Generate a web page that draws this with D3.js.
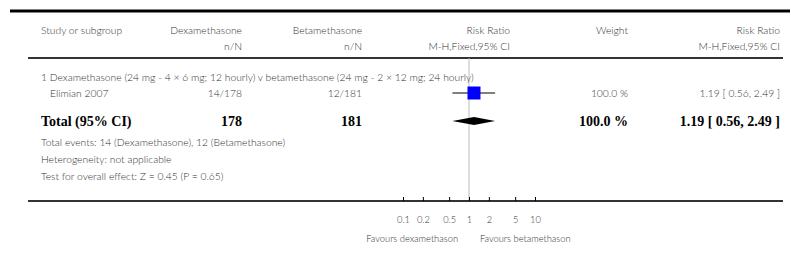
<!DOCTYPE html>
<html>
<head>
<meta charset="utf-8">
<script src="https://cdn.jsdelivr.net/npm/d3@7"></script>
<style>
  body { margin: 0; background: #fff; }
  svg text { font-family: Lato, "Open Sans", sans-serif; font-weight: 300; fill: #333; }
  .bold { font-family: "Liberation Serif", "DejaVu Serif", serif !important; font-weight: bold !important; fill: #000 !important; }
</style>
</head>
<body>
<svg id="chart"></svg>
<script>
// data
const subgroupTitle = "1 Dexamethasone (24 mg - 4 \u00d7 6 mg; 12 hourly) v betamethasone (24 mg - 2 \u00d7 12 mg; 24 hourly)";
const studies = ["Elimian 2007"];
const dexEvents = [14];
const dexTotal = [178];
const betaEvents = [12];
const betaTotal = [181];
const studyRR = [1.19];
const studyLow = [0.56];
const studyHigh = [2.49];
const studyWeight = [100.0];

const totalRR = 1.19, totalLow = 0.56, totalHigh = 2.49;
const totalEventsDex = 14, totalEventsBeta = 12;
const tickValues = [0.1, 0.2, 0.5, 1, 2, 5, 10];
const footLines = [
  `Total events: ${totalEventsDex} (Dexamethasone), ${totalEventsBeta} (Betamethasone)`,
  "Heterogeneity: not applicable",
  "Test for overall effect: Z = 0.45 (P = 0.65)"
];

const width = 791, height = 274;
const svg = d3.select('#chart').attr('width', width).attr('height', height);

const x = d3.scaleLog().domain([0.1, 10]).range([403, 535]);

// column right edges
const col = { dex: 242, beta: 362, rr: 510, weight: 628, ci: 780 };
const left = 41;
const fs = 10.3;

const fmt = d3.format('.2f');

// top rule + header rule
svg.append('line').attr('x1', 10).attr('x2', 790).attr('y1', 11).attr('y2', 11)
  .attr('stroke', '#000').attr('stroke-width', 3);
svg.append('line').attr('x1', 28).attr('x2', 783).attr('y1', 58).attr('y2', 58)
  .attr('stroke', '#333').attr('stroke-width', 2);

// null line
svg.append('line').attr('x1', x(1)).attr('x2', x(1)).attr('y1', 58).attr('y2', 201)
  .attr('stroke', '#bbb').attr('stroke-width', 1);

// header
const hdr = svg.append('g').attr('font-size', fs);
hdr.append('text').attr('x', left).attr('y', 34).text('Study or subgroup');
[[col.dex, 'Dexamethasone', 'n/N'], [col.beta, 'Betamethasone', 'n/N'],
 [col.rr, 'Risk Ratio', 'M-H,Fixed,95% CI'], [col.weight, 'Weight', ''],
 [col.ci, 'Risk Ratio', 'M-H,Fixed,95% CI']].forEach(([cx, a, b]) => {
  hdr.append('text').attr('x', cx).attr('y', 34).attr('text-anchor', 'end').text(a);
  if (b) hdr.append('text').attr('x', cx).attr('y', 50).attr('text-anchor', 'end').text(b);
});

// subgroup
const body = svg.append('g').attr('font-size', fs);
body.append('text').attr('x', left).attr('y', 81).text(subgroupTitle);

const rowY = d3.scaleBand().domain(studies).range([85, 101]);
studies.forEach((s, i) => {
  const y = rowY(s) + rowY.bandwidth() / 2;
  body.append('text').attr('x', 50).attr('y', y + 3.5).text(s);
  body.append('text').attr('x', col.dex).attr('y', y + 3.5).attr('text-anchor', 'end')
    .text(`${dexEvents[i]}/${dexTotal[i]}`);
  body.append('text').attr('x', col.beta).attr('y', y + 3.5).attr('text-anchor', 'end')
    .text(`${betaEvents[i]}/${betaTotal[i]}`);
  body.append('text').attr('x', col.weight).attr('y', y + 3.5).attr('text-anchor', 'end')
    .text(`${studyWeight[i].toFixed(1)} %`);
  body.append('text').attr('x', col.ci).attr('y', y + 3.5).attr('text-anchor', 'end')
    .text(`${studyRR[i]} [ ${fmt(studyLow[i])}, ${fmt(studyHigh[i])} ]`);

  svg.append('line').attr('x1', x(studyLow[i])).attr('x2', x(studyHigh[i]))
    .attr('y1', y).attr('y2', y).attr('stroke', '#000').attr('stroke-width', 1);
  const sz = 13;
  svg.append('rect').attr('x', x(studyRR[i]) - sz / 2).attr('y', y - sz / 2)
    .attr('width', sz).attr('height', sz).attr('fill', '#0000ff');
});

// total row
const ty = 121;
const tot = svg.append('g').attr('font-size', 14);
tot.append('text').attr('class', 'bold').attr('x', left).attr('y', ty + 5).text('Total (95% CI)');
tot.append('text').attr('class', 'bold').attr('x', col.dex).attr('y', ty + 5).attr('text-anchor', 'end').text(d3.sum(dexTotal));
tot.append('text').attr('class', 'bold').attr('x', col.beta).attr('y', ty + 5).attr('text-anchor', 'end').text(d3.sum(betaTotal));
tot.append('text').attr('class', 'bold').attr('x', col.weight).attr('y', ty + 5).attr('text-anchor', 'end').text('100.0 %');
tot.append('text').attr('class', 'bold').attr('x', col.ci).attr('y', ty + 5).attr('text-anchor', 'end')
  .text(`${totalRR} [ ${fmt(totalLow)}, ${fmt(totalHigh)} ]`);

svg.append('path')
  .attr('d', `M${x(totalLow)},${ty} L${x(totalRR)},${ty - 4} L${x(totalHigh)},${ty} L${x(totalRR)},${ty + 4} Z`)
  .attr('fill', '#000');

// footnotes
footLines.forEach((t, i) => {
  body.append('text').attr('x', left).attr('y', 146 + i * 17).text(t);
});

// bottom rule / axis
svg.append('line').attr('x1', 28).attr('x2', 783).attr('y1', 201).attr('y2', 201)
  .attr('stroke', '#333').attr('stroke-width', 2);

const axis = svg.append('g').attr('transform', 'translate(0,201)')
  .call(d3.axisBottom(x).tickValues(tickValues).tickFormat(d3.format('~g'))
    .tickSizeInner(-4).tickSizeOuter(0).tickPadding(15));
axis.select('.domain').remove();
axis.selectAll('.tick line').attr('stroke', '#000');
axis.selectAll('.tick text').attr('font-size', 9.3).attr('fill', '#333')
  .style('font-family', 'Lato, sans-serif').style('font-weight', 300);

svg.append('text').attr('x', x(1) - 11).attr('y', 242).attr('text-anchor', 'end')
  .attr('font-size', 9.3).text('Favours dexamethason');
svg.append('text').attr('x', x(1) + 11).attr('y', 242)
  .attr('font-size', 9.3).text('Favours betamethason');
</script>
</body>
</html>
